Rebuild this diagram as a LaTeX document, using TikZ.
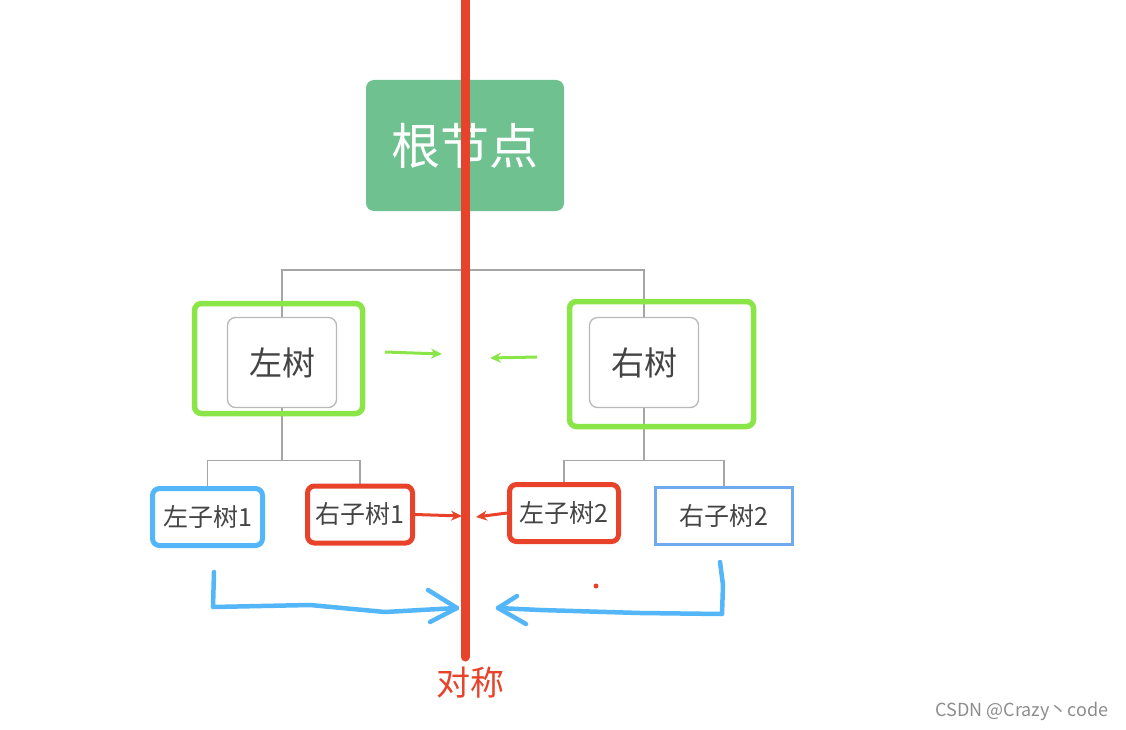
\documentclass[tikz,border=0pt]{standalone}
\usepackage{fontspec}
\setmainfont{Noto Sans CJK SC}
\usetikzlibrary{backgrounds,arrows.meta}
\definecolor{rootgreen}{HTML}{6FC18F}
\definecolor{framegreen}{HTML}{8AE548}
\definecolor{axisred}{HTML}{E9422A}
\definecolor{handblue}{HTML}{52B6F9}
\definecolor{paleblue}{HTML}{70AAEE}
\definecolor{linkgray}{HTML}{A6A6A6}
\definecolor{textgray}{HTML}{444444}
\tikzset{
  link/.style={draw=linkgray, line width=1.3pt},
  treebox/.style={draw=linkgray!80, line width=1.3pt, rounded corners=8pt, fill=white,
    text=textgray, minimum width=109pt, minimum height=90pt, inner sep=0pt,
    font=\fontsize{33}{36}\selectfont},
  greenframe/.style={draw=framegreen, line width=5.5pt, rounded corners=7pt, inner sep=0pt},
  subbox/.style={line width=5pt, rounded corners=7pt, fill=white, text=textgray,
    minimum height=57pt, inner sep=0pt, font=\fontsize{25}{28}\selectfont},
  greenarrow/.style={draw=framegreen, line width=3pt, -{Stealth[length=11pt,width=10pt]}},
  redarrow/.style={draw=axisred, line width=3pt, -{Stealth[length=11pt,width=10pt]}},
  handline/.style={draw=handblue, line width=4.5pt, line cap=round, line join=round}
}
\newcommand{\subtree}[6]{\node[subbox, draw=#5, minimum width=#4pt] (#1) at (#2,#3) {#6};}
\begin{document}
\begin{tikzpicture}[x=1pt,y=-1pt]
\useasboundingbox (0,0) rectangle (1126,730);
% root
\node[fill=rootgreen, rounded corners=8pt, minimum width=198pt, minimum height=131pt,
  text=white, font=\fontsize{49}{52}\selectfont] (root) at (465,145.5) {根节点};
% first level
\node[greenframe, minimum width=168pt, minimum height=110pt] (lframe) at (278.5,358.5) {};
\node[greenframe, minimum width=184pt, minimum height=125pt] (rframe) at (661.5,364) {};
\node[treebox] (ltree) at (282,362.5) {左树};
\node[treebox] (rtree) at (644,362.5) {右树};
% second level
\subtree{lsub1}{207.5}{517}{110}{handblue}{左子树1}
\subtree{rsub1}{360}{514.5}{105}{axisred}{右子树1}
\subtree{lsub2}{564}{513}{109}{axisred}{左子树2}
\node[subbox, draw=paleblue, line width=3pt, rounded corners=0pt, minimum width=137pt]
  (rsub2) at (724,516) {右子树2};
% tree links
\begin{scope}[on background layer]
\coordinate (bar) at (465,270);
\draw[link] (root.south) -- (bar) -| (ltree.north);
\draw[link] (bar) -| (rtree.north);
\draw[link] (ltree.south) -- ++(0,52) coordinate (lfork) -| (lsub1.north);
\draw[link] (lfork) -| (rsub1.north);
\draw[link] (rtree.south) -- ++(0,52) coordinate (rfork) -| (lsub2.north);
\draw[link] (rfork) -| (rsub2.north);
\end{scope}
% axis
\coordinate (axistop) at (465,-5);
\coordinate (axisbot) at (465,657);
\draw[draw=axisred, line width=9pt, line cap=round] (axistop) -- (axisbot);
\node[text=axisred, font=\fontsize{34}{38}\selectfont] (sym) at (470,683) {对称};
% arrows towards the axis
\coordinate (ga1) at (385,352); \coordinate (ga2) at (442,354);
\coordinate (gb1) at (537,357); \coordinate (gb2) at (490,358);
\draw[greenarrow] (ga1) -- (ga2);
\draw[greenarrow] (gb1) -- (gb2);
\coordinate (ra) at (462,516);
\coordinate (rb) at (476,517);
\draw[redarrow] (rsub1.east) -- (ra);
\draw[redarrow] (lsub2.west) -- (rb);
% hand drawn arrows
\coordinate (ha) at (214,572); \coordinate (htip) at (457,608);
\draw[handline] (ha) -- (213,607) -- (310,605) -- (385,612) -- (htip);
\draw[handline] (428,590) -- (htip) -- (430,622);
\coordinate (hb) at (720,562); \coordinate (htipb) at (498,608);
\draw[handline] (hb) -- (723,585) -- (722,614) -- (640,613) -- (540,610) -- (htipb);
\draw[handline] (517,596) -- (htipb) -- (526,624);
\fill[axisred] (596,586) circle (2.5pt);
% watermark
\node[text=black!45, font=\fontsize{18}{20}\selectfont, anchor=east] (mark) at (1112,711) {CSDN @Crazy丶code};
\end{tikzpicture}
\end{document}
